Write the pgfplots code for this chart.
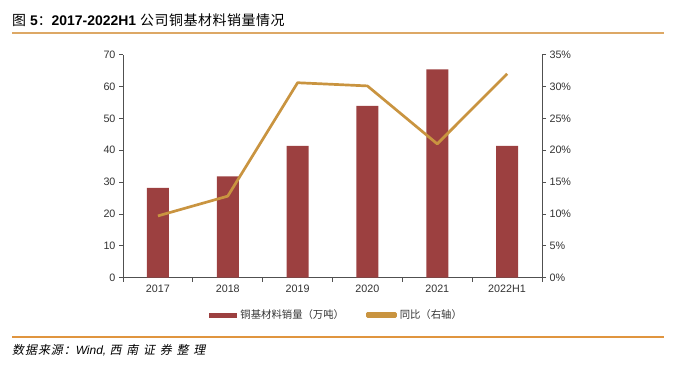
\documentclass[border=0pt]{standalone}
\usepackage{fontspec}
\setmainfont{Liberation Sans}
\newfontfamily\cjk{Noto Sans CJK SC}
\newfontfamily\cjkit[FakeSlant=0.2,LetterSpace=8]{Noto Sans CJK SC}
\newfontfamily\cjkitsp[FakeSlant=0.2,LetterSpace=40]{Noto Sans CJK SC}
\newfontfamily\cjksp[LetterSpace=4]{Noto Sans CJK SC}
\usepackage{pgfplots}
\pgfplotsset{compat=1.18}
\definecolor{barred}{HTML}{9C4040}
\definecolor{linegold}{HTML}{C99440}
\definecolor{axisgray}{HTML}{505050}
\definecolor{labelgray}{HTML}{333333}
\definecolor{ruleA}{HTML}{DDA865}
\definecolor{ruleB}{HTML}{E0953F}
\begin{document}
\begin{tikzpicture}[x=1bp,y=1bp]
\path[use as bounding box] (0,0) rectangle (681,369);
\draw[ruleA, line width=1.4bp] (12,336) -- (664,336);
\draw[ruleB, line width=1.1bp] (12,32) -- (664,32);
\node[anchor=west, inner sep=0] at (12,349) {\fontsize{14}{16}\selectfont{\cjk 图} \textbf{5}{\cjk ：}\textbf{2017-2022H1} {\cjksp 公司铜基材料销量情况}};
\node[anchor=west, inner sep=0] at (12,19) {\fontsize{12}{14}\selectfont{\cjkit 数据来源：}{\itshape Wind,} {\cjkitsp 西南证券整理}};

\begin{axis}[
  at={(123bp,91.3bp)}, anchor=south west,
  width=419bp, height=223bp, scale only axis,
  xmin=-0.5, xmax=5.5, ymin=0, ymax=70,
  axis x line*=bottom, axis y line*=left,
  axis line style={axisgray, line width=0.8bp},
  xtick={-0.5,0.5,...,5.5}, xticklabels={},
  extra x ticks={0,1,2,3,4,5},
  extra x tick labels={2017,2018,2019,2020,2021,2022H1},
  extra x tick style={tick style={draw=none}},
  ytick={0,10,...,70},
  tick align=outside, major tick length=4bp,
  tick style={axisgray, line width=0.8bp},
  ticklabel style={font=\fontsize{10.8}{12}\selectfont, text=labelgray},
  /pgf/number format/assume math mode=true,
  clip=false,
]
\addplot[ybar, bar width=22bp, fill=barred, draw=none] coordinates {
(0,28.2) (1,31.8) (2,41.4) (3,53.9) (4,65.4) (5,41.4)};
\end{axis}

\begin{axis}[
  at={(123bp,91.3bp)}, anchor=south west,
  width=419bp, height=223bp, scale only axis,
  xmin=-0.5, xmax=5.5, ymin=0, ymax=35,
  axis x line=none, axis y line*=right,
  axis line style={axisgray, line width=0.8bp},
  ytick={0,5,...,35},
  yticklabel={\pgfmathprintnumber{\tick}\%},
  tick align=outside, major tick length=4bp,
  tick style={axisgray, line width=0.8bp},
  ticklabel style={font=\fontsize{10.8}{12}\selectfont, text=labelgray},
  /pgf/number format/assume math mode=true,
  clip=false,
  legend columns=2,
  legend style={at={(0.5095,-0.167)}, anchor=center, draw=none, fill=none,
    font=\fontsize{10.4}{12}\selectfont\cjk, text=labelgray,
    /tikz/every even column/.append style={column sep=20bp}},
]
\addlegendimage{legend image code/.code={\fill[barred] (0bp,-2.2bp) rectangle (27bp,2.2bp); \path (29bp,0bp);}}
\addlegendentry{铜基材料销量（万吨）}
\addplot[linegold, line width=2.7bp, line join=round, mark=none,
  legend image code/.code={\fill[linegold] (0bp,-1.6bp) rectangle (28bp,1.6bp); \path (29bp,0bp);}]
  coordinates {(0,9.7) (1,12.8) (2,30.6) (3,30.1) (4,21.0) (5,32.0)};
\addlegendentry{同比（右轴）}
\end{axis}
\end{tikzpicture}
\end{document}
